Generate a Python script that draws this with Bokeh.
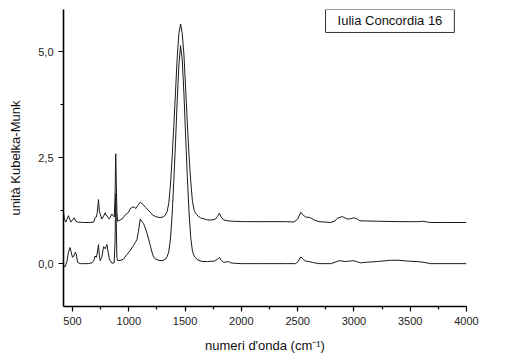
from bokeh.plotting import figure
from bokeh.models import Range1d, FixedTicker, CustomJSTickFormatter, Label
from bokeh.embed import file_html
from bokeh.resources import INLINE

# Kubelka-Munk spectra, sample Iulia Concordia 16 (wavenumber in cm^-1)
wn_a = [420, 435, 450, 464, 478, 490, 500, 510, 525, 534, 545, 570, 600, 640, 673,
        690, 700, 711, 718, 731, 738, 746, 760, 776, 785, 791, 806, 815, 827, 850,
        870, 878, 884, 889, 894, 901, 930, 954, 985, 1013, 1040, 1058, 1073, 1085,
        1102, 1115, 1132, 1155, 1176, 1192, 1206, 1220, 1236, 1265, 1295, 1325, 1340,
        1355, 1370, 1385, 1400, 1415, 1430, 1445, 1460, 1475, 1490, 1505, 1520, 1535,
        1550, 1565, 1580, 1593, 1610, 1651, 1700, 1760, 1790, 1805, 1820, 1844, 1865,
        1883, 1905, 1932, 2000, 2200, 2400, 2481, 2505, 2528, 2550, 2571, 2600, 2630,
        2689, 2793, 2840, 2867, 2900, 2926, 2960, 3000, 3020, 3060, 3100, 3208, 3326,
        3400, 3474, 3560, 3622, 3683, 3800, 4000]
ic16a = [-0.05, -0.07, 0.05, 0.27, 0.38, 0.25, 0.15, 0.17, 0.27, 0.22, 0.03, 0.0, 0.0, 0.0, 0.02,
         0.08, 0.18, 0.15, 0.22, 0.45, 0.20, 0.07, 0.15, 0.40, 0.38, 0.35, 0.45, 0.30, 0.11, 0.01,
         0.02, 0.50, 1.65, 1.00, 0.15, 0.07, 0.08, 0.11, 0.22, 0.31, 0.42, 0.50, 0.57, 0.75,
         1.05, 1.00, 0.94, 0.78, 0.58, 0.42, 0.27, 0.16, 0.11, 0.08, 0.07, 0.10, 0.16,
         0.28, 0.58, 1.15, 1.95, 2.85, 3.85, 4.68, 5.14, 4.80, 4.00, 3.00, 2.05, 1.22,
         0.62, 0.30, 0.18, 0.14, 0.09, 0.05, 0.05, 0.06, 0.11, 0.15, 0.08, 0.03, 0.04,
         0.05, 0.02, 0.01, 0.0, 0.0, 0.0, 0.0, 0.05, 0.16, 0.10, 0.06, 0.05, 0.03,
         0.0, 0.0, 0.04, 0.07, 0.06, 0.05, 0.06, 0.07, 0.05, 0.02, 0.03, 0.05, 0.08,
         0.08, 0.06, 0.05, 0.03, 0.0, 0.0, 0.0]

wn_b = [420, 428, 440, 452, 464, 475, 486, 500, 515, 528, 545, 600, 650, 688, 702,
        712, 720, 731, 738, 746, 761, 776, 791, 798, 806, 818, 827, 850, 871, 878,
        884, 889, 895, 901, 924, 939, 969, 998, 1013, 1043, 1064, 1080, 1102, 1125,
        1147, 1170, 1191, 1210, 1236, 1265, 1295, 1320, 1340, 1355, 1370, 1385, 1400,
        1415, 1430, 1445, 1460, 1475, 1490, 1505, 1520, 1535, 1550, 1565, 1580, 1593,
        1615, 1636, 1700, 1740, 1770, 1790, 1805, 1820, 1844, 1880, 1918, 2021, 2200,
        2400, 2466, 2500, 2528, 2550, 2571, 2600, 2615, 2645, 2689, 2793, 2830, 2852,
        2897, 2941, 2970, 3000, 3024, 3054, 3200, 3400, 3504, 3580, 3620, 3650, 3683,
        3800, 4000]
ic16b = [1.20, 1.05, 0.98, 1.05, 1.13, 1.05, 0.98, 1.03, 1.08, 1.00, 0.98, 0.97, 0.97, 0.98, 1.09,
         1.10, 1.20, 1.51, 1.25, 1.17, 1.05, 1.12, 1.20, 1.14, 1.13, 1.08, 1.05, 1.17, 1.10, 1.60,
         2.59, 1.90, 1.20, 1.00, 1.03, 1.05, 1.15, 1.21, 1.30, 1.34, 1.30, 1.37, 1.45, 1.40,
         1.33, 1.27, 1.21, 1.15, 1.11, 1.09, 1.09, 1.13, 1.22, 1.42, 1.85, 2.50, 3.25,
         4.05, 4.85, 5.42, 5.65, 5.42, 4.92, 4.12, 3.32, 2.55, 1.95, 1.48, 1.26, 1.19,
         1.12, 1.08, 1.03, 1.03, 1.05, 1.12, 1.19, 1.10, 1.03, 1.01, 1.00, 0.99, 0.99,
         0.99, 0.98, 1.05, 1.21, 1.14, 1.10, 1.09, 1.08, 1.03, 0.99, 0.97, 1.00, 1.07,
         1.11, 1.05, 1.06, 1.08, 1.06, 1.01, 1.00, 0.99, 0.99, 0.99, 1.00, 0.98, 0.97,
         0.97, 0.97]

x_major = [500, 1000, 1500, 2000, 2500, 3000, 3500, 4000]
x_minor = [750, 1250, 1750, 2250, 2750, 3250, 3750]
y_major = [0.0, 2.5, 5.0]
y_minor = [1.25, 3.75]

title_text = "Iulia Concordia 16"
FONT = "Liberation Sans"
INK = "#1a1a1a"

p = figure(width=513, height=355,
           x_range=Range1d(420, 4000), y_range=Range1d(-1.01, 5.99),
           output_backend="svg", toolbar_location=None,
           min_border_left=63, min_border_right=47,
           min_border_top=9, min_border_bottom=49)
p.outline_line_color = None
p.grid.visible = False
p.background_fill_color = "white"
p.border_fill_color = "white"

p.line(wn_a, ic16a, line_color=INK, line_width=1)
p.line(wn_b, ic16b, line_color=INK, line_width=1)

for ax in (p.xaxis[0], p.yaxis[0]):
    ax.axis_line_color = "black"
    ax.axis_line_width = 1.6
    ax.major_tick_line_color = "black"
    ax.minor_tick_line_color = "black"
    ax.major_tick_line_width = 1.2
    ax.minor_tick_line_width = 1.2
    ax.major_tick_in = 0
    ax.major_tick_out = 5
    ax.minor_tick_in = 0
    ax.minor_tick_out = 3
    ax.major_label_text_font = FONT
    ax.major_label_text_font_size = "11px"
    ax.major_label_text_color = "#222222"
    ax.major_label_standoff = 5
    ax.axis_label_text_font = FONT
    ax.axis_label_text_font_size = "13px"
    ax.axis_label_text_font_style = "normal"
    ax.axis_label_text_color = "#111111"

p.xaxis.ticker = FixedTicker(ticks=x_major, minor_ticks=x_minor)
p.yaxis.ticker = FixedTicker(ticks=y_major, minor_ticks=y_minor)
p.yaxis.formatter = CustomJSTickFormatter(code="return tick.toFixed(1).replace('.', ',');")
p.xaxis.axis_label = "numeri d'onda (cm\u207b\u00b9)"
p.yaxis.axis_label = "unit\u00e0 Kubelka-Munk"
p.xaxis.axis_label_standoff = 10
p.yaxis.axis_label_standoff = 12

# series names at the right-hand end of each trace
for name, xs, ys, dy in (("IC16b", wn_b, ic16b, 2), ("IC16a", wn_a, ic16a, -1)):
    p.add_layout(Label(x=xs[-1], y=ys[-1], x_offset=3, y_offset=dy, text=name,
                       text_font=FONT, text_font_size="13px", text_color="#111111",
                       text_align="left", text_baseline="alphabetic"))

# boxed sample title
p.add_layout(Label(x=3320, y=5.72, text=title_text, text_align="center",
                   text_baseline="middle", text_font=FONT, text_font_size="13px",
                   text_color="#111111", border_line_color="#333333",
                   border_line_width=1, background_fill_color="white",
                   padding=dict(left=12, right=12, top=4, bottom=4)))

open("out.html", "w").write(file_html(p, INLINE))
